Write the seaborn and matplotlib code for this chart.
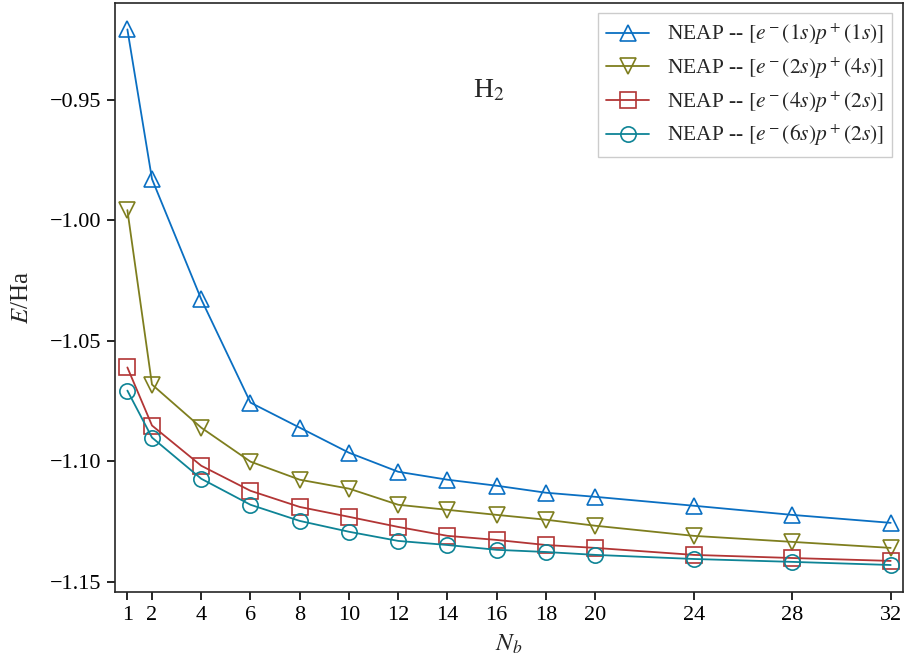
import numpy as np
import pandas as pd
import matplotlib
matplotlib.use("Agg")
import matplotlib.pyplot as plt
import seaborn as sns

N = [1, 2, 4, 6, 8, 10, 12, 14, 16, 18, 20, 24, 28, 32]
E_1s1s = [-0.9207, -0.9828, -1.0327, -1.0756, -1.0860, -1.0964, -1.1043,
          -1.1076, -1.1101, -1.1130, -1.1147, -1.1184, -1.1222, -1.1255]
E_2s4s = [-0.9957, -1.0681, -1.0860, -1.1001, -1.1076, -1.1113, -1.1180,
          -1.1201, -1.1222, -1.1242, -1.1267, -1.1309, -1.1334, -1.1359]
E_4s2s = [-1.0610, -1.0851, -1.1018, -1.1122, -1.1189, -1.1230, -1.1272,
          -1.1309, -1.1326, -1.1347, -1.1359, -1.1388, -1.1401, -1.1413]
E_6s2s = [-1.0706, -1.0901, -1.1072, -1.1180, -1.1247, -1.1292, -1.1330,
          -1.1347, -1.1367, -1.1376, -1.1388, -1.1405, -1.1417, -1.1430]

labels = [r"NEAP -- $[e^-(1s)p^+(1s)]$",
          r"NEAP -- $[e^-(2s)p^+(4s)]$",
          r"NEAP -- $[e^-(4s)p^+(2s)]$",
          r"NEAP -- $[e^-(6s)p^+(2s)]$"]
series = [E_1s1s, E_2s4s, E_4s2s, E_6s2s]
colors = ["#0a6fc2", "#7e7e1e", "#b23535", "#0e8496"]
markers = ["^", "v", "s", "o"]
xticks = N
yticks = [-0.95, -1.00, -1.05, -1.10, -1.15]

sns.set_style("ticks")
plt.rcParams["font.family"] = ["Liberation Serif", "DejaVu Serif"]
plt.rcParams["mathtext.fontset"] = "stix"
plt.rcParams["axes.linewidth"] = 1.2

rows = []
for lab, vals in zip(labels, series):
    for n, e in zip(N, vals):
        rows.append({"N": n, "E": e, "series": lab})
df = pd.DataFrame(rows)

fig = plt.figure(figsize=(9.06, 6.59), dpi=100)
ax = fig.add_axes([0.127, 0.102, 0.8697, 0.894])

for lab, col, mk in zip(labels, colors, markers):
    sub = df[df["series"] == lab]
    sns.lineplot(data=sub, x="N", y="E", ax=ax, color=col, marker=mk,
                 markersize=11, markerfacecolor="none", markeredgecolor=col,
                 markeredgewidth=1.2, linewidth=1.3, label=lab)

ax.set_xlim(0.5, 32.5)
ax.set_xticks(xticks)
ax.set_xticklabels([str(v) for v in xticks])
ax.set_yticks(yticks)
ax.set_yticklabels([f"\u2212{abs(v):.2f}" for v in yticks])
ax.tick_params(axis="both", labelsize=16, direction="out", length=6, width=1.2,
               colors="black", pad=4)
ax.set_xlabel(r"$N_b$", fontsize=18, labelpad=6)
ax.set_ylabel(r"$E$/Ha", fontsize=18, labelpad=12)
ax.text(15.7, -0.946, r"H$_2$", fontsize=20, ha="center", va="center")

leg = ax.legend(loc="upper right", fontsize=15.5, fancybox=False, framealpha=1,
                edgecolor="#cccccc", handlelength=2.0, borderaxespad=0.5,
                labelspacing=0.38)

fig.savefig("out.png", dpi=100)
